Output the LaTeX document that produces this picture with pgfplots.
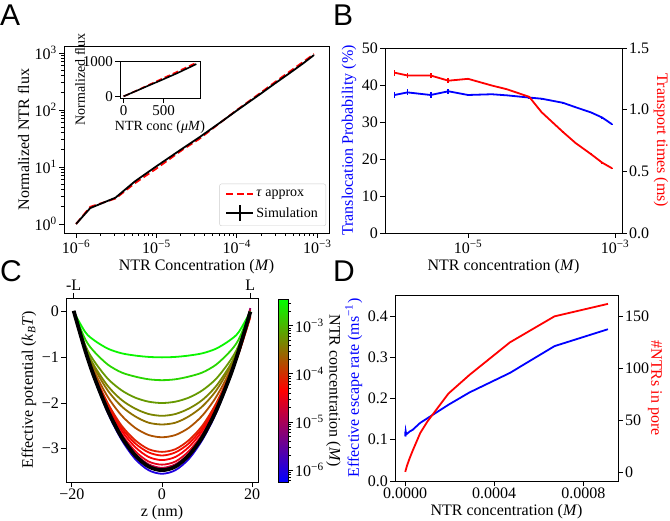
\documentclass[border=0pt]{standalone}
\usepackage{fontspec}
\setmainfont{Liberation Serif}
\newfontfamily\panelfont{Liberation Sans}
\usepackage{pgfplots}
\pgfplotsset{compat=1.18}

\newcommand{\fs}{\fontsize{16}{18}\selectfont}
\newcommand{\fsi}{\fontsize{14}{16}\selectfont}
\newcommand{\tp}[1]{10\textsuperscript{−#1}}

\pgfplotsset{
  mpl/.style={
    scale only axis, anchor=south west,
    axis line style={black, line width=0.9pt},
    every tick/.style={black, line width=0.9pt},
    tick align=outside, tick pos=left,
    major tick length=5pt, minor tick length=3pt,
    tick label style={font=\fs, inner sep=2pt},
    label style={font=\fs},
    /pgf/number format/assume math mode=true,
  },
  twin/.style={axis x line=none, axis y line*=right,
    ytick pos=right, yticklabel pos=right},
}

\begin{document}
\begin{tikzpicture}
\path[use as bounding box] (0pt,0pt) rectangle (670pt,-521pt);

% ---------------- A ----------------
\begin{axis}[mpl, at={(64pt,-233pt)}, width=265pt, height=187pt,
  xmode=log, ymode=log,
  xmin=7.08e-7, xmax=1.4e-3, ymin=0.695, ymax=1327,
  xtick={1e-6,1e-5,1e-4,1e-3}, xticklabels={\tp{6},\tp{5},\tp{4},\tp{3}},
  ytick={1,10,100,1000},
  yticklabels={10\textsuperscript{0},10\textsuperscript{1},10\textsuperscript{2},10\textsuperscript{3}},
  xlabel={NTR Concentration (\textit{M})},
  ylabel={Normalized NTR flux},
  legend cell align=left,
  legend style={font=\fsi, draw=black!20, rounded corners=2pt, fill=white,
    at={(1,0)}, anchor=south east, xshift=-3pt, yshift=7pt,
    inner xsep=6pt, inner ysep=4pt, row sep=4pt},
  legend image code/.code={\draw[#1] (0pt,0pt) -- (27pt,0pt);},
]
\addplot[red, line width=1.8pt, dash pattern=on 7pt off 3.5pt] coordinates {
  (1e-6,1) (1.5e-6,2.0) (3.1e-6,2.8) (5.4e-6,5.2) (1e-5,9.4) (2.1e-5,20)
  (3.4e-5,31) (6.8e-5,66) (1e-4,100) (1.95e-4,198) (2.9e-4,300)
  (4.7e-4,490) (6.7e-4,700) (9.1e-4,960)
};
\addlegendentry{\textit{τ} approx}
\addplot[black, line width=1.8pt,
  legend image code/.code={\draw[black,line width=1.8pt] (0pt,0pt) -- (27pt,0pt);
    \draw[black,line width=1.8pt] (13.5pt,-8pt) -- (13.5pt,8pt);}] coordinates {
  (1e-6,1) (1.5e-6,1.9) (3.1e-6,2.9) (5.4e-6,5.6) (1e-5,10.3) (2.1e-5,21)
  (3.4e-5,33) (6.8e-5,66) (1e-4,98) (1.95e-4,190) (2.9e-4,285)
  (4.7e-4,460) (6.7e-4,660) (9.1e-4,920)
};
\addlegendentry{Simulation}
\end{axis}

% inset
\begin{axis}[mpl, at={(120pt,-98pt)}, width=80pt, height=37pt,
  xmin=-44.5, xmax=955.5, ymin=-47, ymax=1008,
  xtick={0,500}, xticklabels={0,500}, ytick={0,1000}, yticklabels={0,1000},
  tick label style={font=\fontsize{15}{16}\selectfont},
  label style={font=\fsi},
  xlabel={NTR conc (\textit{μM})}, ylabel={Normalized flux},
  ylabel style={at={(axis description cs:-0.5,0.5)}, anchor=center},
  axis background/.style={fill=white},
]
\addplot[red, line width=1.6pt, dash pattern=on 6pt off 3pt] coordinates {
  (1,1) (1.5,2.0) (3.1,2.8) (5.4,5.2) (10,9.4) (21,20) (34,31) (68,66)
  (100,100) (195,198) (290,300) (470,490) (670,700) (910,960)
};
\addplot[black, line width=1.6pt] coordinates {
  (1,1) (1.5,1.9) (3.1,2.9) (5.4,5.6) (10,10.3) (21,21) (34,33) (68,66)
  (100,98) (195,190) (290,285) (470,460) (670,660) (910,920)
};
\end{axis}

% ---------------- B ----------------
\begin{axis}[mpl, at={(385pt,-233pt)}, width=237pt, height=185pt,
  xmode=log, xmin=7.41e-7, xmax=1.245e-3, ymin=0, ymax=50,
  xtick={1e-5,1e-3}, xticklabels={\tp{5},\tp{3}}, xminorticks=false,
  ytick={0,10,20,30,40,50}, yticklabels={0,10,20,30,40,50},
  xlabel={NTR concentration (\textit{M})},
  ylabel={Translocation Probability (\%)}, ylabel style={text=blue},
]
\addplot[blue, line width=1.8pt, error bars/.cd, y dir=both, y explicit,
  error mark=none, error bar style={line width=1.8pt}] coordinates {
  (1.0e-6,37.3) +- (0,0.9)
  (1.5e-6,38.0) +- (0,0.8)
  (3.1e-6,37.3) +- (0,0.8)
  (5.4e-6,38.3) +- (0,0.7)
  (1.0e-5,37.3) +- (0,0.3)
  (2.1e-5,37.5) +- (0,0.2)
  (3.4e-5,37.2) +- (0,0.2)
  (6.8e-5,36.6) +- (0,0.2)
  (1.0e-4,36.3) +- (0,0.2)
  (1.95e-4,35.2) +- (0,0.1)
  (2.9e-4,34.0) +- (0,0.1)
  (4.7e-4,32.6) +- (0,0.1)
  (6.7e-4,31.2) +- (0,0.1)
  (9.1e-4,29.4) +- (0,0.1)
};
\end{axis}
\begin{axis}[mpl, twin, at={(385pt,-233pt)}, width=237pt, height=185pt,
  xmode=log, xmin=7.41e-7, xmax=1.245e-3, ymin=0, ymax=1.5,
  ytick={0,0.5,1,1.5}, yticklabels={0.0,0.5,1.0,1.5},
  ylabel={Transport times (ms)},
  ylabel style={at={(axis description cs:1.1646,0.5)}, anchor=center, rotate=180, text=red},
]
\addplot[red, line width=1.8pt, error bars/.cd, y dir=both, y explicit,
  error mark=none, error bar style={line width=1.8pt}] coordinates {
  (1.0e-6,1.300) +- (0,0.025)
  (1.5e-6,1.277) +- (0,0.02)
  (3.1e-6,1.277) +- (0,0.02)
  (5.4e-6,1.235) +- (0,0.02)
  (1.0e-5,1.250) +- (0,0.005)
  (2.1e-5,1.196) +- (0,0.005)
  (3.4e-5,1.165) +- (0,0.005)
  (6.8e-5,1.104) +- (0,0.005)
  (1.0e-4,0.980) +- (0,0.005)
  (1.95e-4,0.820) +- (0,0.005)
  (2.9e-4,0.730) +- (0,0.005)
  (4.7e-4,0.640) +- (0,0.005)
  (6.7e-4,0.570) +- (0,0.005)
  (9.1e-4,0.525) +- (0,0.005)
};
\end{axis}

% ---------------- C ----------------
\begin{axis}[mpl, at={(66pt,-482pt)}, width=192pt, height=184pt,
  xmin=-21.3, xmax=21.3, ymin=-3.73, ymax=0.3,
  xtick={-20,0,20}, xticklabels={−20,0,20},
  ytick={-3,-2,-1,0}, yticklabels={−3,−2,−1,0},
  xlabel={z (nm)},
  ylabel={Effective potential (\textit{k}\textsubscript{\textit{B}}\textit{T})},
  colormap={brg}{rgb=(0,0,1) rgb=(1,0,0) rgb=(0,1,0)},
  colorbar, point meta min=-6.25, point meta max=-2.44,
  colorbar style={scale only axis, width=9.5pt, height=183pt,
    at={(parent axis.north east)}, anchor=north west, xshift=12pt, yshift=-1pt,
    axis line style={black, line width=0.9pt},
    every tick/.style={black, line width=0.9pt},
    tick align=outside, ytick pos=right, yticklabel pos=right,
    major tick length=5pt, minor tick length=3pt,
    ytick={-6,-5,-4,-3}, yticklabels={\tp{6},\tp{5},\tp{4},\tp{3}},
    minor ytick={-6.222,-6.155,-6.097,-6.046,
      -5.699,-5.523,-5.398,-5.301,-5.222,-5.155,-5.097,-5.046,
      -4.699,-4.523,-4.398,-4.301,-4.222,-4.155,-4.097,-4.046,
      -3.699,-3.523,-3.398,-3.301,-3.222,-3.155,-3.097,-3.046,
      -2.699,-2.523},
    tick label style={font=\fs, inner sep=2pt},
    ylabel={NTR concentration (\textit{M})},
    ylabel style={at={(axis description cs:5.79,0.5)}, anchor=center, rotate=180, font=\fs}},
]
\addplot[color={rgb,1:red,0.12;green,0;blue,0.88}, line width=1.8pt, smooth] coordinates {
  (-19.6,0) (-17,-0.88) (-15,-1.47) (-12,-2.22) (-9,-2.80) (-6,-3.22) (-3,-3.47) (0,-3.55)
  (3,-3.47) (6,-3.22) (9,-2.80) (12,-2.22) (15,-1.47) (17,-0.88) (19.6,0)};
\addplot[color={rgb,1:red,0.56;green,0;blue,0.44}, line width=1.8pt, smooth] coordinates {
  (-19.6,0) (-17,-0.86) (-15,-1.44) (-12,-2.18) (-9,-2.75) (-6,-3.15) (-3,-3.40) (0,-3.48)
  (3,-3.40) (6,-3.15) (9,-2.75) (12,-2.18) (15,-1.44) (17,-0.84) (19.6,0.08)};
\addplot[color={rgb,1:red,0.76;green,0;blue,0.24}, line width=1.8pt, smooth] coordinates {
  (-19.6,0) (-17,-0.87) (-15,-1.44) (-12,-2.16) (-9,-2.71) (-6,-3.11) (-3,-3.34) (0,-3.42)
  (3,-3.34) (6,-3.11) (9,-2.71) (12,-2.16) (15,-1.44) (17,-0.85) (19.6,0.05)};
\addplot[color={rgb,1:red,0.9;green,0;blue,0.1}, line width=1.8pt, smooth] coordinates {
  (-19.6,0) (-17,-0.87) (-15,-1.43) (-12,-2.13) (-9,-2.67) (-6,-3.05) (-3,-3.28) (0,-3.35)
  (3,-3.28) (6,-3.05) (9,-2.67) (12,-2.13) (15,-1.43) (17,-0.88) (19.6,-0.03)};
\addplot[color={rgb,1:red,0.98;green,0;blue,0.02}, line width=1.8pt, smooth] coordinates {
  (-19.6,0) (-17,-0.87) (-15,-1.42) (-12,-2.09) (-9,-2.60) (-6,-2.96) (-3,-3.18) (0,-3.25)
  (3,-3.18) (6,-2.96) (9,-2.60) (12,-2.09) (15,-1.42) (17,-0.90) (19.6,-0.08)};
\addplot[color={rgb,1:red,0.96;green,0.04;blue,0}, line width=1.8pt, smooth] coordinates {
  (-19.6,0) (-17,-0.87) (-15,-1.40) (-12,-2.05) (-9,-2.54) (-6,-2.88) (-3,-3.08) (0,-3.15)
  (3,-3.08) (6,-2.88) (9,-2.54) (12,-2.05) (15,-1.40) (17,-0.91) (19.6,-0.10)};
\addplot[color={rgb,1:red,0.88;green,0.12;blue,0}, line width=1.8pt, smooth] coordinates {
  (-19.6,0) (-17,-0.87) (-15,-1.38) (-12,-2.01) (-9,-2.49) (-6,-2.81) (-3,-3.01) (0,-3.07)
  (3,-3.01) (6,-2.81) (9,-2.49) (12,-2.01) (15,-1.38) (17,-0.92) (19.6,-0.12)};
\addplot[color={rgb,1:red,0.68;green,0.32;blue,0}, line width=1.8pt, smooth] coordinates {
  (-19.6,0) (-17,-0.85) (-15,-1.32) (-12,-1.87) (-9,-2.27) (-6,-2.54) (-3,-2.70) (0,-2.75)
  (3,-2.70) (6,-2.54) (9,-2.27) (12,-1.87) (15,-1.32) (17,-0.85) (19.6,-0.05)};
\addplot[color={rgb,1:red,0.56;green,0.44;blue,0}, line width=1.8pt, smooth] coordinates {
  (-19.6,0) (-17,-0.82) (-15,-1.24) (-12,-1.73) (-9,-2.07) (-6,-2.29) (-3,-2.43) (0,-2.47)
  (3,-2.43) (6,-2.29) (9,-2.07) (12,-1.73) (15,-1.24) (17,-0.82) (19.6,0)};
\addplot[color={rgb,1:red,0.48;green,0.52;blue,0}, line width=1.8pt, smooth] coordinates {
  (-19.6,0) (-17,-0.79) (-15,-1.19) (-12,-1.63) (-9,-1.93) (-6,-2.12) (-3,-2.24) (0,-2.28)
  (3,-2.24) (6,-2.12) (9,-1.93) (12,-1.63) (15,-1.19) (17,-0.79) (19.6,0)};
\addplot[color={rgb,1:red,0.40;green,0.60;blue,0}, line width=1.8pt, smooth] coordinates {
  (-19.6,0) (-17,-0.74) (-15,-1.09) (-12,-1.47) (-9,-1.72) (-6,-1.88) (-3,-1.97) (0,-2.00)
  (3,-1.97) (6,-1.88) (9,-1.72) (12,-1.47) (15,-1.09) (17,-0.74) (19.6,0)};
\addplot[color={rgb,1:red,0.16;green,0.84;blue,0}, line width=1.8pt, smooth] coordinates {
  (-19.6,0) (-17,-0.61) (-15,-0.88) (-12,-1.16) (-9,-1.33) (-6,-1.42) (-3,-1.48) (0,-1.50)
  (3,-1.48) (6,-1.42) (9,-1.33) (12,-1.16) (15,-0.88) (17,-0.61) (19.6,0)};
\addplot[color={rgb,1:red,0.04;green,0.96;blue,0}, line width=1.8pt, smooth] coordinates {
  (-19.6,0) (-17,-0.45) (-15,-0.63) (-12,-0.81) (-9,-0.91) (-6,-0.96) (-3,-0.99) (0,-1.00)
  (3,-0.99) (6,-0.96) (9,-0.91) (12,-0.81) (15,-0.63) (17,-0.45) (19.6,0)};
\addplot[black, line width=3.8pt, smooth] coordinates {
  (-19.6,0.02) (-17,-0.86) (-15,-1.44) (-12,-2.17) (-9,-2.74) (-6,-3.14) (-3,-3.39) (0,-3.47)
  (3,-3.39) (6,-3.14) (9,-2.74) (12,-2.17) (15,-1.44) (17,-0.86) (19.6,0)};
\end{axis}
\begin{axis}[mpl, at={(66pt,-482pt)}, width=192pt, height=184pt,
  xmin=-21.3, xmax=21.3, ymin=-3.73, ymax=0.3,
  axis y line=none, axis x line*=top,
  xtick pos=right, xticklabel pos=right,
  xtick={-19.6,19.6}, xticklabels={-L,L},
]
\end{axis}

% ---------------- D ----------------
\begin{axis}[mpl, at={(395pt,-481pt)}, width=223pt, height=186pt,
  xmin=-4.5e-5, xmax=9.55e-4, ymin=0, ymax=0.451, scaled x ticks=false,
  xtick={0,0.0004,0.0008}, xticklabels={0.0000,0.0004,0.0008},
  ytick={0,0.1,0.2,0.3,0.4}, yticklabels={0.0,0.1,0.2,0.3,0.4},
  xlabel={NTR concentration (\textit{M})},
  ylabel={Effective escape rate (ms\textsuperscript{−1})}, ylabel style={text=blue},
]
\addplot[blue, line width=1.8pt] coordinates {
  (1.0e-6,0.120) (1.5e-6,0.108) (3.1e-6,0.120) (5.4e-6,0.113) (1.0e-5,0.115)
  (2.1e-5,0.120) (3.4e-5,0.124) (6.8e-5,0.141) (1.0e-4,0.152) (1.95e-4,0.185)
  (2.9e-4,0.215) (4.7e-4,0.262) (6.7e-4,0.327) (9.1e-4,0.368)
};
\end{axis}
\begin{axis}[mpl, twin, at={(395pt,-481pt)}, width=223pt, height=186pt,
  xmin=-4.5e-5, xmax=9.55e-4, ymin=-8, ymax=170.5,
  ytick={0,50,100,150}, yticklabels={0,50,100,150},
  ylabel={\#NTRs in pore},
  ylabel style={at={(axis description cs:1.166,0.5)}, anchor=center, rotate=180, text=red},
]
\addplot[red, line width=1.8pt] coordinates {
  (1.0e-6,0.8) (1.5e-6,1.2) (3.1e-6,2.4) (5.4e-6,4.2) (1.0e-5,7.5)
  (2.1e-5,14) (3.4e-5,21) (6.8e-5,38) (1.0e-4,49) (1.95e-4,76)
  (2.9e-4,94) (4.7e-4,125) (6.7e-4,150) (9.1e-4,162)
};
\end{axis}

% panel letters
\node[anchor=base west, inner sep=0pt, font=\panelfont\fontsize{30}{30}\selectfont] at (0pt,-26pt) {A};
\node[anchor=base west, inner sep=0pt, font=\panelfont\fontsize{30}{30}\selectfont] at (333pt,-26pt) {B};
\node[anchor=base west, inner sep=0pt, font=\panelfont\fontsize{30}{30}\selectfont] at (0pt,-282pt) {C};
\node[anchor=base west, inner sep=0pt, font=\panelfont\fontsize{30}{30}\selectfont] at (333pt,-282pt) {D};
\end{tikzpicture}
\end{document}
